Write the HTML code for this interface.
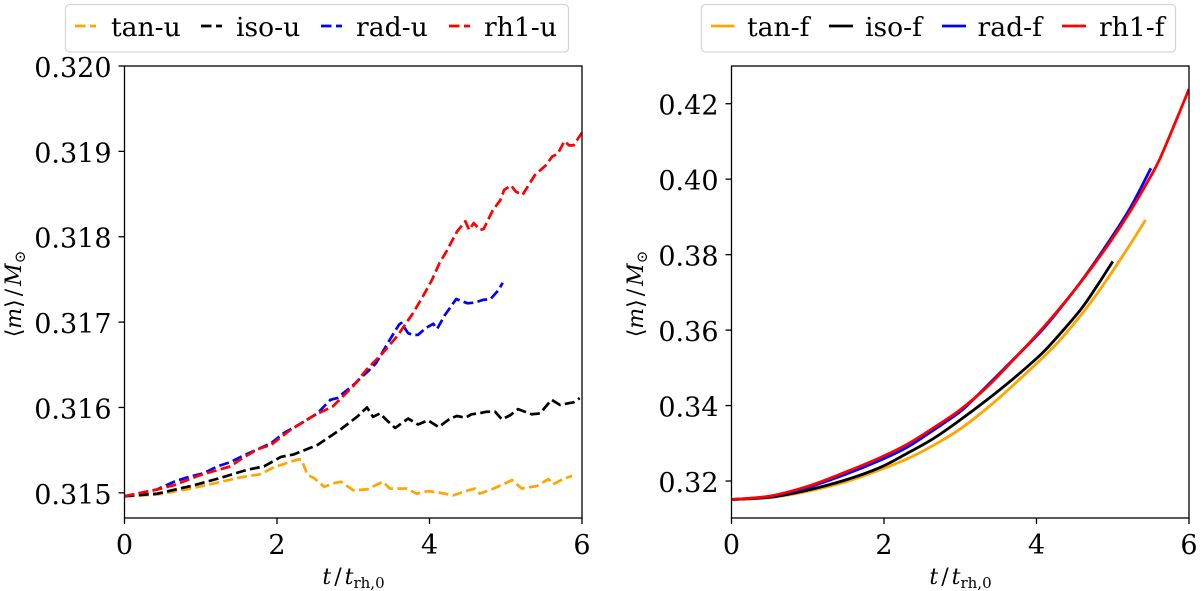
<!DOCTYPE html>
<html><head><meta charset="utf-8"><title>Mean mass evolution</title>
<style>
html,body{margin:0;padding:0;background:#fff;width:1200px;height:591px;overflow:hidden}
svg{display:block}
text{font-family:"DejaVu Serif","Liberation Serif",serif;fill:#000}
.tick{font-size:27px}
.leg{font-size:26.6px}
.lab{font-size:22px}
</style></head>
<body>
<svg id="fig" width="1200" height="591" viewBox="0 0 1200 591" xmlns="http://www.w3.org/2000/svg">
<defs>
<clipPath id="clipL"><rect x="124.5" y="66" width="457.5" height="452"/></clipPath>
<clipPath id="clipR"><rect x="731.5" y="66" width="457.5" height="452"/></clipPath>
</defs>
<g id="left"></g>
<g id="right"></g>

<text class="lab" x="353.5" y="584" text-anchor="middle"><tspan font-style="italic">t</tspan><tspan dx="3">/</tspan><tspan dx="3" font-style="italic">t</tspan><tspan font-size="15" dy="4">rh,0</tspan></text>
<text class="lab" x="960.5" y="584" text-anchor="middle"><tspan font-style="italic">t</tspan><tspan dx="3">/</tspan><tspan dx="3" font-style="italic">t</tspan><tspan font-size="15" dy="4">rh,0</tspan></text>
<text class="lab" transform="translate(21,294) rotate(-90)" text-anchor="middle">⟨<tspan font-style="italic">m</tspan>⟩<tspan dx="3">/</tspan><tspan dx="3" font-style="italic">M</tspan><tspan font-size="15" dy="4">⊙</tspan></text>
<text class="lab" transform="translate(643,294) rotate(-90)" text-anchor="middle">⟨<tspan font-style="italic">m</tspan>⟩<tspan dx="3">/</tspan><tspan dx="3" font-style="italic">M</tspan><tspan font-size="15" dy="4">⊙</tspan></text>

<g>
<rect x="65.5" y="4.5" width="503" height="47.5" rx="4" fill="#fff" stroke="#d6d6d6" stroke-width="1.3"/>
<line x1="75" x2="96" y1="26" y2="26" stroke="#ffa500" stroke-width="2.8" stroke-dasharray="10.5 4.5"/>
<text class="leg" x="111" y="36">tan-u</text>
<line x1="201" x2="222" y1="26" y2="26" stroke="#000" stroke-width="2.8" stroke-dasharray="10.5 4.5"/>
<text class="leg" x="236" y="36">iso-u</text>
<line x1="321" x2="342" y1="26" y2="26" stroke="#0000ff" stroke-width="2.8" stroke-dasharray="10.5 4.5"/>
<text class="leg" x="356" y="36">rad-u</text>
<line x1="449" x2="470" y1="26" y2="26" stroke="#ff0000" stroke-width="2.8" stroke-dasharray="10.5 4.5"/>
<text class="leg" x="484" y="36">rh1-u</text>
</g>
<g>
<rect x="701.5" y="4.5" width="474" height="47.5" rx="4" fill="#fff" stroke="#d6d6d6" stroke-width="1.3"/>
<line x1="711" x2="734.5" y1="26" y2="26" stroke="#ffa500" stroke-width="2.8"/>
<text class="leg" x="747" y="36">tan-f</text>
<line x1="829" x2="853" y1="26" y2="26" stroke="#000" stroke-width="2.8"/>
<text class="leg" x="865" y="36">iso-f</text>
<line x1="942" x2="966" y1="26" y2="26" stroke="#0000ff" stroke-width="2.8"/>
<text class="leg" x="977.5" y="36">rad-f</text>
<line x1="1062" x2="1086" y1="26" y2="26" stroke="#ff0000" stroke-width="2.8"/>
<text class="leg" x="1099" y="36">rh1-f</text>
</g>
</svg>
<script>
// Data
const xTicks = [0, 2, 4, 6];
const yTicksLeft = [0.315, 0.316, 0.317, 0.318, 0.319, 0.320];
const yTickLabelsLeft = ["0.315", "0.316", "0.317", "0.318", "0.319", "0.320"];
const yTicksRight = [0.32, 0.34, 0.36, 0.38, 0.40, 0.42];
const yTickLabelsRight = ["0.32", "0.34", "0.36", "0.38", "0.40", "0.42"];

const tanUT = [0,.43,.87,1.22,1.52,1.79,1.96,2.27,2.32,2.4,2.49,2.62,2.73,2.84,3,3.18,3.39,3.48,3.7,3.83,3.98,4.14,4.31,4.51,4.6,4.66,4.84,4.97,5.08,5.21,5.41,5.56,5.62,5.75,5.87];
const tanUM = [.31496,.31498,.31505,.31512,.31518,.31522,.3153,.31539,.31539,.31521,.31517,.31507,.31511,.31513,.31503,.31504,.31513,.31505,.31505,.31499,.31502,.315,.31497,.31503,.31505,.31499,.31505,.3151,.31515,.31505,.31508,.31516,.3151,.31516,.3152];
const isoUT = [0,.43,.87,1.24,1.61,1.83,2.05,2.22,2.53,2.73,2.83,3.05,3.18,3.26,3.35,3.44,3.55,3.72,3.85,3.98,4.12,4.27,4.36,4.47,4.55,4.64,4.75,4.86,4.95,5.06,5.16,5.34,5.45,5.6,5.71,5.89,5.97];
const isoUM = [.31496,.31499,.31508,.31517,.31527,.31531,.31542,.31545,.31556,.31568,.31574,.31589,.316,.31589,.31593,.31585,.31576,.31587,.3158,.31585,.31577,.31587,.3159,.31588,.31592,.31593,.31595,.31595,.31586,.31591,.31598,.31592,.31593,.31609,.31603,.31606,.31611];
const radUT = [0,.43,.65,.82,1.04,1.22,1.39,1.57,1.92,2.09,2.31,2.53,2.7,2.79,3.01,3.2,3.3,3.45,3.6,3.63,3.72,3.78,3.85,3.95,4.05,4.1,4.2,4.35,4.5,4.6,4.7,4.8,4.9,4.96];
const radUM = [.31496,.31504,.31513,.31518,.31523,.31531,.31536,.31544,.31558,.3157,.31581,.31593,.31609,.31611,.31627,.31643,.31652,.31675,.31697,.31699,.31687,.31685,.31685,.31693,.31698,.31692,.31708,.31727,.31722,.31723,.31726,.31727,.31737,.31746];
const rh1UT = [0,.43,.65,1,1.39,1.52,1.74,1.92,2.18,2.49,2.73,3.01,3.18,3.38,3.58,3.78,3.9,4.03,4.13,4.23,4.36,4.47,4.52,4.58,4.66,4.71,4.83,4.93,4.98,5.07,5.13,5.22,5.38,5.53,5.61,5.68,5.77,5.83,5.89,6];
const rh1UM = [.31496,.31504,.31509,.31521,.31531,.31539,.31551,.31556,.31574,.31591,.31601,.31626,.31645,.31663,.31684,.3171,.31728,.31749,.31769,.31784,.31806,.31818,.31808,.31816,.31808,.31809,.31831,.31843,.31855,.3186,.31853,.31849,.31872,.31884,.31894,.31897,.31912,.31907,.31907,.31922];

const tanFT = [0,.5,1,1.5,2.03,2.38,2.73,3,3.26,3.52,3.78,4.05,4.31,4.66,4.92,5.18,5.31,5.43];
const tanFM = [.3151,.3156,.3173,.3198,.3236,.3266,.3304,.3338,.3378,.3422,.3470,.3521,.3574,.3660,.3733,.3812,.3853,.3892];
const isoFT = [0,.5,1,1.5,1.95,2.3,2.65,3,3.35,3.7,4.05,4.22,4.57,4.79,5];
const isoFM = [.3151,.3157,.3176,.3203,.3236,.3273,.3313,.3362,.3415,.3472,.3534,.3570,.3652,.3716,.3782];
const radFT = [0,.5,1,1.5,1.95,2.3,2.65,3,3.17,3.35,3.7,4.05,4.22,4.57,4.92,5.23,5.5];
const radFM = [.3151,.3159,.3183,.3218,.3255,.3289,.3335,.3384,.3416,.3452,.3523,.3595,.3635,.3725,.3826,.3924,.4029];
const rh1FT = [0,.5,1,1.5,1.95,2.3,2.65,3,3.35,3.7,3.96,4.26,4.61,4.96,5.23,5.49,5.62,5.84,6];
const rh1FM = [.3151,.3160,.3186,.3224,.3262,.3297,.3341,.3389,.3449,.3522,.3578,.3647,.3735,.3832,.3915,.4005,.4055,.4160,.4239];

const NS = 'http://www.w3.org/2000/svg';
function node(tag, attrs, parent) {
  const e = document.createElementNS(NS, tag);
  for (const k in attrs) e.setAttribute(k, attrs[k]);
  parent.appendChild(e);
  return e;
}
function linePath(px) {
  return px.map((p, i) => (i ? 'L' : 'M') + p[0].toFixed(2) + ' ' + p[1].toFixed(2)).join('');
}
function curvePath(px) {
  let d = 'M' + px[0][0].toFixed(2) + ' ' + px[0][1].toFixed(2);
  for (let i = 0; i < px.length - 1; i++) {
    const p0 = px[Math.max(i - 1, 0)], p1 = px[i], p2 = px[i + 1], p3 = px[Math.min(i + 2, px.length - 1)];
    const c1x = p1[0] + (p2[0] - p0[0]) / 6, c1y = p1[1] + (p2[1] - p0[1]) / 6;
    const c2x = p2[0] - (p3[0] - p1[0]) / 6, c2y = p2[1] - (p3[1] - p1[1]) / 6;
    d += 'C' + [c1x, c1y, c2x, c2y, p2[0], p2[1]].map(n => n.toFixed(2)).join(' ');
  }
  return d;
}
function drawPanel(g, box, yDomain, yTicks, yLabels, clip, series, prefix) {
  const X = t => box.l + (t - 0) / 6 * (box.r - box.l);
  const Y = v => box.b - (v - yDomain[0]) / (yDomain[1] - yDomain[0]) * (box.b - box.t);
  series.forEach(s => {
    const px = s.t.map((t, i) => [X(t), Y(s.m[i])]);
    const d = s.dash ? linePath(px) : curvePath(px);
    const p = node('path', {d: d, fill: 'none', stroke: s.color, 'stroke-width': s.width, 'stroke-linejoin': 'round', 'clip-path': 'url(#' + clip + ')'}, g);
    if (s.dash) p.setAttribute('stroke-dasharray', s.dash);
    
    
  });
  const frame = node('rect', {x: box.l, y: box.t, width: box.r - box.l, height: box.b - box.t, fill: 'none', stroke: '#000', 'stroke-width': 1.3}, g);
  
  
  xTicks.forEach(v => {
    const x = X(v);
    const tk = node('line', {x1: x, x2: x, y1: box.b, y2: box.b + 6, stroke: '#000', 'stroke-width': 1.3}, g);
    
    
    const lb = node('text', {x: x, y: 554, 'text-anchor': 'middle', class: 'tick'}, g);
    lb.textContent = String(v);
    
    
  });
  yTicks.forEach((v, i) => {
    const y = Y(v);
    const tk = node('line', {x1: box.l - 6, x2: box.l, y1: y, y2: y, stroke: '#000', 'stroke-width': 1.3}, g);
    
    
    const lb = node('text', {x: box.l - 13, y: y + 11, 'text-anchor': 'end', class: 'tick'}, g);
    lb.textContent = yLabels[i];
    
    
  });
}
const DASH = '10 4.3';
drawPanel(document.getElementById('left'), {l: 124.5, r: 582, t: 66, b: 518}, [0.314705, 0.32], yTicksLeft, yTickLabelsLeft, 'clipL', [
  {name: 'tan-u', t: tanUT, m: tanUM, color: '#ffa500', width: 2.7, dash: DASH},
  {name: 'iso-u', t: isoUT, m: isoUM, color: '#000000', width: 2.7, dash: DASH},
  {name: 'rad-u', t: radUT, m: radUM, color: '#0000ff', width: 2.7, dash: DASH},
  {name: 'rh1-u', t: rh1UT, m: rh1UM, color: '#ff0000', width: 2.7, dash: DASH}
], 'left');
drawPanel(document.getElementById('right'), {l: 731.5, r: 1189, t: 66, b: 518}, [0.3102, 0.43], yTicksRight, yTickLabelsRight, 'clipR', [
  {name: 'tan-f', t: tanFT, m: tanFM, color: '#ffa500', width: 2.8},
  {name: 'iso-f', t: isoFT, m: isoFM, color: '#000000', width: 2.8},
  {name: 'rad-f', t: radFT, m: radFM, color: '#0000ff', width: 2.8},
  {name: 'rh1-f', t: rh1FT, m: rh1FM, color: '#ff0000', width: 2.8}
], 'right');
</script>
</body></html>
